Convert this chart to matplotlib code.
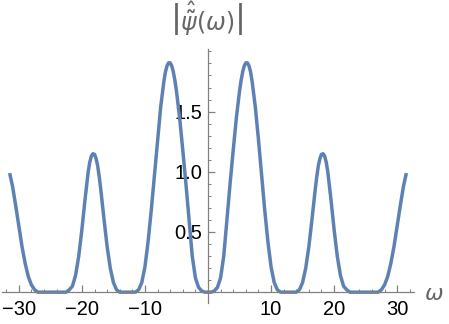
import numpy as np
import matplotlib
matplotlib.use("Agg")
from matplotlib import pyplot as plt
from matplotlib.ticker import MultipleLocator, FixedLocator

# values, right half (omega >= 0); the curve is symmetric
omega_right = [0.0, 0.5, 1.0, 1.5, 2.0, 2.5, 3.0, 3.5, 4.0, 4.5, 5.0, 5.25, 5.5, 5.75,
               6.0, 6.25, 6.5, 6.75, 7.0, 7.5, 8.0, 8.5, 9.0, 9.5, 10.0, 10.5, 11.0,
               11.5, 12.0, 13.0, 14.0, 14.5, 15.0, 15.5, 16.0, 16.5, 17.0, 17.25,
               17.5, 17.75, 18.0, 18.25, 18.5, 18.75, 19.0, 19.5, 20.0, 20.5, 21.0,
               21.5, 22.0, 22.5, 23.0, 24.0, 25.0, 26.0, 27.0, 27.5, 28.0, 28.5,
               29.0, 29.5, 30.0, 30.5, 31.0, 31.4]
mag_right = [0.0, 0.0, 0.01, 0.04, 0.12, 0.30, 0.60, 0.90, 1.18, 1.45, 1.67, 1.76, 1.83, 1.88,
             1.905, 1.905, 1.88, 1.83, 1.75, 1.54, 1.27, 0.97, 0.68, 0.42, 0.21, 0.08, 0.02,
             0.0, 0.0, 0.0, 0.0, 0.02, 0.08, 0.20, 0.38, 0.61, 0.85, 0.96,
             1.05, 1.11, 1.145, 1.15, 1.13, 1.08, 1.00, 0.77, 0.52, 0.30, 0.14,
             0.05, 0.02, 0.0, 0.0, 0.0, 0.0, 0.0, 0.0, 0.02, 0.06, 0.13,
             0.24, 0.38, 0.55, 0.72, 0.88, 0.975]

omega = [-w for w in omega_right[::-1]] + omega_right[1:]
mag = mag_right[::-1] + mag_right[1:]

x_major = [-30, -20, -10, 10, 20, 30]
y_major = [0.5, 1.0, 1.5]

plt.rcParams['font.family'] = ['Liberation Sans', 'DejaVu Sans']

fig = plt.figure(figsize=(4.49, 3.24), dpi=100)
ax = fig.add_axes([2 / 449, 21 / 324, 412 / 449, 254 / 324])

ax.plot(omega, mag, color="#5E81B5", lw=2.5, solid_joinstyle="round")

ax.set_xlim(-32.67, 32.67)
ax.set_ylim(-0.09, 2.02)

axcol = "#808080"
for s in ["top", "right"]:
    ax.spines[s].set_visible(False)
for s in ["left", "bottom"]:
    ax.spines[s].set_position(("data", 0))
    ax.spines[s].set_color(axcol)
    ax.spines[s].set_linewidth(0.9)

ax.xaxis.set_major_locator(FixedLocator(x_major))
ax.xaxis.set_minor_locator(MultipleLocator(2))
ax.yaxis.set_major_locator(FixedLocator(y_major))
ax.yaxis.set_minor_locator(MultipleLocator(0.1))
ax.set_xticklabels([("\u2212%d" % -v) if v < 0 else str(v) for v in x_major])
ax.set_yticklabels(["%.1f" % v for v in y_major])

ax.tick_params(which="both", direction="in", color=axcol, labelsize=14.5, labelcolor="black")
ax.tick_params(which="major", length=5, width=0.9)
ax.tick_params(which="minor", length=2.5, width=0.7)
ax.tick_params(axis="x", pad=6)
ax.tick_params(axis="y", pad=4)

fig.text(434 / 449, 1 - 295 / 324, r"$\omega$", color="#666666", fontsize=16,
         ha="center", va="center")
fig.text(207 / 449, 1 - 19 / 324, r"$\left|\hat{\tilde{\psi}}(\omega)\right|$",
         color="#666666", fontsize=17, ha="center", va="center")

fig.savefig("out.png", dpi=100)
